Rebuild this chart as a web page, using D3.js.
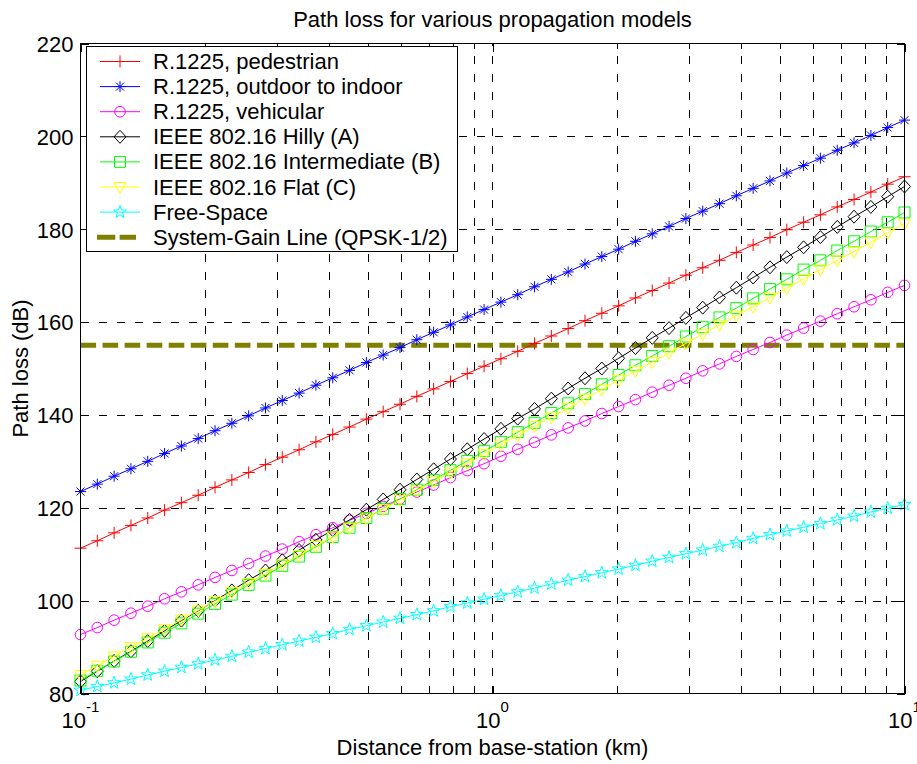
<!DOCTYPE html>
<html>
<head>
<meta charset="utf-8">
<script src="https://cdn.jsdelivr.net/npm/d3@7/dist/d3.min.js"></script>
<style>
  html, body { margin: 0; padding: 0; background: #fff; }
  svg { display: block; }
  text { font-family: "Liberation Sans", Arial, Helvetica, sans-serif; fill: #000; }
</style>
</head>
<body>
<svg id="chart" width="917" height="764"></svg>
<script>
// ---------------- data ----------------
const distanceKm = [0.1, 0.10985, 0.12068, 0.13257, 0.14563, 0.15999, 0.17575, 0.19307, 0.2121, 0.233,
  0.25595, 0.28118, 0.30888, 0.33932, 0.37276, 0.40949, 0.44984, 0.49417, 0.54287, 0.59636,
  0.65513, 0.71969, 0.7906, 0.86851, 0.9541, 1.04811, 1.1514, 1.26486, 1.3895, 1.52642,
  1.67683, 1.84207, 2.02359, 2.223, 2.44205, 2.6827, 2.94705, 3.23746, 3.55648, 3.90694,
  4.29193, 4.71487, 5.17947, 5.68987, 6.25055, 6.86649, 7.54312, 8.28643, 9.10298, 10];

const pedestrian = [111.3, 112.9, 114.6, 116.2, 117.8, 119.5, 121.1, 122.7, 124.4, 126.0,
  127.6, 129.3, 130.9, 132.5, 134.2, 135.8, 137.4, 139.1, 140.7, 142.3,
  144.0, 145.6, 147.2, 148.9, 150.5, 152.1, 153.7, 155.4, 157.0, 158.6,
  160.3, 161.9, 163.5, 165.2, 166.8, 168.4, 170.1, 171.7, 173.3, 175.0,
  176.6, 178.2, 179.9, 181.5, 183.1, 184.8, 186.4, 188.0, 189.7, 191.3];

const outdoorToIndoor = [123.5, 125.1, 126.8, 128.4, 130.0, 131.7, 133.3, 134.9, 136.6, 138.2,
  139.8, 141.5, 143.1, 144.7, 146.4, 148.0, 149.6, 151.3, 152.9, 154.5,
  156.2, 157.8, 159.4, 161.1, 162.7, 164.3, 165.9, 167.6, 169.2, 170.8,
  172.5, 174.1, 175.7, 177.4, 179.0, 180.6, 182.3, 183.9, 185.5, 187.2,
  188.8, 190.4, 192.1, 193.7, 195.3, 197.0, 198.6, 200.2, 201.9, 203.5];

const vehicular = [92.7, 94.2, 95.8, 97.3, 98.8, 100.4, 101.9, 103.4, 105.0, 106.5,
  108.0, 109.6, 111.1, 112.7, 114.2, 115.7, 117.3, 118.8, 120.3, 121.9,
  123.4, 124.9, 126.5, 128.0, 129.5, 131.1, 132.6, 134.1, 135.7, 137.2,
  138.7, 140.3, 141.8, 143.3, 144.9, 146.4, 147.9, 149.5, 151.0, 152.6,
  154.1, 155.6, 157.2, 158.7, 160.2, 161.8, 163.3, 164.8, 166.4, 167.9];

const hillyA = [82.6, 84.8, 87.0, 89.1, 91.3, 93.5, 95.7, 97.8, 100.0, 102.2,
  104.4, 106.5, 108.7, 110.9, 113.1, 115.2, 117.4, 119.6, 121.8, 123.9,
  126.1, 128.3, 130.5, 132.6, 134.8, 137.0, 139.2, 141.3, 143.5, 145.7,
  147.9, 150.0, 152.2, 154.4, 156.6, 158.7, 160.9, 163.1, 165.3, 167.4,
  169.6, 171.8, 174.0, 176.1, 178.3, 180.5, 182.7, 184.8, 187.0, 189.2];

const intermediateB = [82.8, 84.9, 86.9, 89.0, 91.0, 93.1, 95.1, 97.2, 99.3, 101.3,
  103.4, 105.4, 107.5, 109.5, 111.6, 113.7, 115.7, 117.8, 119.8, 121.9,
  123.9, 126.0, 128.1, 130.1, 132.2, 134.2, 136.3, 138.3, 140.4, 142.5,
  144.5, 146.6, 148.6, 150.7, 152.7, 154.8, 156.9, 158.9, 161.0, 163.0,
  165.1, 167.1, 169.2, 171.3, 173.3, 175.4, 177.4, 179.5, 181.5, 183.6];

const flatC = [84.0, 86.0, 88.0, 90.0, 91.9, 93.9, 95.9, 97.9, 99.9, 101.9,
  103.8, 105.8, 107.8, 109.8, 111.8, 113.8, 115.7, 117.7, 119.7, 121.7,
  123.7, 125.7, 127.6, 129.6, 131.6, 133.6, 135.6, 137.6, 139.5, 141.5,
  143.5, 145.5, 147.5, 149.5, 151.4, 153.4, 155.4, 157.4, 159.4, 161.4,
  163.3, 165.3, 167.3, 169.3, 171.3, 173.3, 175.2, 177.2, 179.2, 181.2];

const freeSpace = [80.7, 81.5, 82.3, 83.1, 84.0, 84.8, 85.6, 86.4, 87.2, 88.0,
  88.9, 89.7, 90.5, 91.3, 92.1, 92.9, 93.8, 94.6, 95.4, 96.2,
  97.0, 97.8, 98.7, 99.5, 100.3, 101.1, 101.9, 102.7, 103.6, 104.4,
  105.2, 106.0, 106.8, 107.6, 108.5, 109.3, 110.1, 110.9, 111.7, 112.5,
  113.4, 114.2, 115.0, 115.8, 116.6, 117.4, 118.2, 119.1, 119.9, 120.7];

const systemGain = 155;

const seriesNames = ["R.1225, pedestrian", "R.1225, outdoor to indoor", "R.1225, vehicular",
  "IEEE 802.16 Hilly (A)", "IEEE 802.16 Intermediate (B)", "IEEE 802.16 Flat (C)", "Free-Space"];
const gainLineName = "System-Gain Line (QPSK-1/2)";

const yTicks = [80, 100, 120, 140, 160, 180, 200, 220];
const xMajorTicks = [0.1, 1, 10];
const xTickExponents = ["-1", "0", "1"];
const xMinorTicks = [0.2, 0.3, 0.4, 0.5, 0.6, 0.7, 0.8, 0.9, 2, 3, 4, 5, 6, 7, 8, 9];

const titleText = "Path loss for various propagation models";
const xLabel = "Distance from base-station (km)";
const yLabel = "Path loss (dB)";

// ---------------- styles ----------------
const seriesValues = [pedestrian, outdoorToIndoor, vehicular, hillyA, intermediateB, flatC, freeSpace];
const seriesColors = ["#ff0000", "#0000ff", "#ff00ff", "#000000", "#00ff00", "#ffff00", "#00ffff"];
const seriesMarkers = ["plus", "asterisk", "circle", "diamond", "square", "triangleDown", "pentagram"];
const gainColor = "#808000";

function pentagramPath(R, r) {
  let p = "";
  for (let i = 0; i < 10; i++) {
    const rad = (i % 2 === 0) ? R : r;
    const a = -Math.PI / 2 + i * Math.PI / 5;
    p += (i === 0 ? "M" : "L") + (rad * Math.cos(a)).toFixed(2) + "," + (rad * Math.sin(a)).toFixed(2);
  }
  return p + "Z";
}
const markerPaths = {
  plus: "M-6,0H6M0,-6V6",
  asterisk: "M-5.5,0H5.5M0,-5.5V5.5M-4,-4L4,4M-4,4L4,-4",
  circle: "M5.3,0A5.3,5.3 0 1,1 -5.3,0A5.3,5.3 0 1,1 5.3,0Z",
  diamond: "M0,-6.5L6,0L0,6.5L-6,0Z",
  square: "M-5.5,-5.5H5.5V5.5H-5.5Z",
  triangleDown: "M-6,-4.5H6L0,6.5Z",
  pentagram: pentagramPath(6.8, 2.7)
};

// ---------------- layout ----------------
const plotL = 80.5, plotR = 904.5, plotT = 43.5, plotB = 693.5;
const svg = d3.select("#chart");
const x = d3.scaleLog().domain([0.1, 10]).range([plotL, plotR]);
const y = d3.scaleLinear().domain([80, 220]).range([plotB, plotT]);
const fontSize = 22;

// grid
const grid = svg.append("g").attr("stroke", "#000").attr("stroke-width", 1)
  .attr("stroke-dasharray", "8,10").attr("shape-rendering", "crispEdges").attr("fill", "none");
const xGrid = xMinorTicks.concat([1]);
grid.selectAll("line.v").data(xGrid).join("line").attr("class", "v")
  .attr("x1", d => Math.round(x(d)) + 0.5).attr("x2", d => Math.round(x(d)) + 0.5)
  .attr("y1", plotB).attr("y2", plotT);
grid.selectAll("line.h").data(yTicks.filter(v => v > 80 && v < 220)).join("line").attr("class", "h")
  .attr("y1", d => Math.round(y(d)) + 0.5).attr("y2", d => Math.round(y(d)) + 0.5)
  .attr("x1", plotL).attr("x2", plotR);

// system gain line
svg.append("line")
  .attr("x1", x(0.1)).attr("x2", x(10)).attr("y1", y(systemGain)).attr("y2", y(systemGain))
  .attr("stroke", gainColor).attr("stroke-width", 5).attr("stroke-dasharray", "15.6,6.45");

// series
const lineGen = d3.line().x((d, i) => x(distanceKm[i])).y(d => y(d));
seriesValues.forEach((vals, si) => {
  const g = svg.append("g");
  g.append("path").attr("d", lineGen(vals)).attr("fill", "none")
    .attr("stroke", seriesColors[si]).attr("stroke-width", 1);
  g.selectAll("path.m").data(vals).join("path").attr("class", "m")
    .attr("transform", (d, i) => `translate(${x(distanceKm[i])},${y(d)})`)
    .attr("d", markerPaths[seriesMarkers[si]])
    .attr("fill", "none").attr("stroke", seriesColors[si]).attr("stroke-width", 1);
});

// axes (ticks inward)
const axG = svg.append("g").attr("font-size", fontSize);
const yAxisL = d3.axisLeft(y).tickValues(yTicks).tickSizeInner(-8).tickSizeOuter(0).tickPadding(7);
const gL = axG.append("g").attr("transform", `translate(${plotL},0)`).call(yAxisL);
const yAxisR = d3.axisRight(y).tickValues(yTicks).tickSizeInner(-8).tickSizeOuter(0).tickFormat("");
axG.append("g").attr("transform", `translate(${plotR},0)`).call(yAxisR);
const xAxisB = d3.axisBottom(x).tickValues(xMajorTicks).tickSizeInner(-8).tickSizeOuter(0).tickFormat("");
axG.append("g").attr("transform", `translate(0,${plotB})`).call(xAxisB);
axG.append("g").attr("transform", `translate(0,${plotB})`)
  .call(d3.axisBottom(x).tickValues(xMinorTicks).tickSizeInner(-5).tickSizeOuter(0).tickFormat(""));
axG.append("g").attr("transform", `translate(0,${plotT})`)
  .call(d3.axisTop(x).tickValues(xMajorTicks).tickSizeInner(-8).tickSizeOuter(0).tickFormat(""));
axG.append("g").attr("transform", `translate(0,${plotT})`)
  .call(d3.axisTop(x).tickValues(xMinorTicks).tickSizeInner(-5).tickSizeOuter(0).tickFormat(""));
axG.selectAll(".domain").remove();
axG.selectAll(".tick line").attr("stroke", "#000").attr("shape-rendering", "crispEdges");
gL.selectAll(".tick text").attr("fill", "#000").attr("font-size", fontSize).attr("dy", "0.36em");

// x tick labels 10^n
const xl = svg.append("g");
xMajorTicks.forEach((v, i) => {
  const t = xl.append("text").attr("x", x(v)).attr("y", 728).attr("text-anchor", "middle");
  t.append("tspan").attr("font-size", fontSize).text("10");
  t.append("tspan").attr("font-size", 15).attr("dy", -16).text(xTickExponents[i]);
});

// legend
const legX = 86.5, legY = 46.5, legW = 371, legH = 205, rowH = 25.1, row0 = 61.5;
const leg = svg.append("g");
leg.append("rect").attr("x", legX).attr("y", legY).attr("width", legW).attr("height", legH)
  .attr("fill", "#fff").attr("stroke", "#000").attr("stroke-width", 1).attr("shape-rendering", "crispEdges");
seriesNames.forEach((name, i) => {
  const cy = row0 + i * rowH;
  leg.append("line").attr("x1", 100).attr("x2", 140).attr("y1", cy).attr("y2", cy)
    .attr("stroke", seriesColors[i]).attr("stroke-width", 1);
  leg.append("path").attr("transform", `translate(120,${cy})`).attr("d", markerPaths[seriesMarkers[i]])
    .attr("fill", "none").attr("stroke", seriesColors[i]).attr("stroke-width", 1);
  leg.append("text").attr("x", 153).attr("y", cy + 7.5).attr("font-size", fontSize).text(name);
});
{
  const cy = row0 + 7 * rowH;
  leg.append("line").attr("x1", 97).attr("x2", 136).attr("y1", cy).attr("y2", cy)
    .attr("stroke", gainColor).attr("stroke-width", 5).attr("stroke-dasharray", "18.3,4.3");
  leg.append("text").attr("x", 153).attr("y", cy + 7.5).attr("font-size", fontSize).text(gainLineName);
}

// axes box
svg.append("rect").attr("x", plotL).attr("y", plotT).attr("width", plotR - plotL).attr("height", plotB - plotT)
  .attr("fill", "none").attr("stroke", "#000").attr("stroke-width", 1).attr("shape-rendering", "crispEdges");

// title and labels
svg.append("text").attr("x", (plotL + plotR) / 2).attr("y", 27).attr("text-anchor", "middle")
  .attr("font-size", fontSize).text(titleText);
svg.append("text").attr("x", (plotL + plotR) / 2).attr("y", 755).attr("text-anchor", "middle")
  .attr("font-size", fontSize).text(xLabel);
svg.append("text").attr("transform", `translate(28,${(plotT + plotB) / 2}) rotate(-90)`)
  .attr("text-anchor", "middle").attr("font-size", fontSize).text(yLabel);
</script>
</body>
</html>
